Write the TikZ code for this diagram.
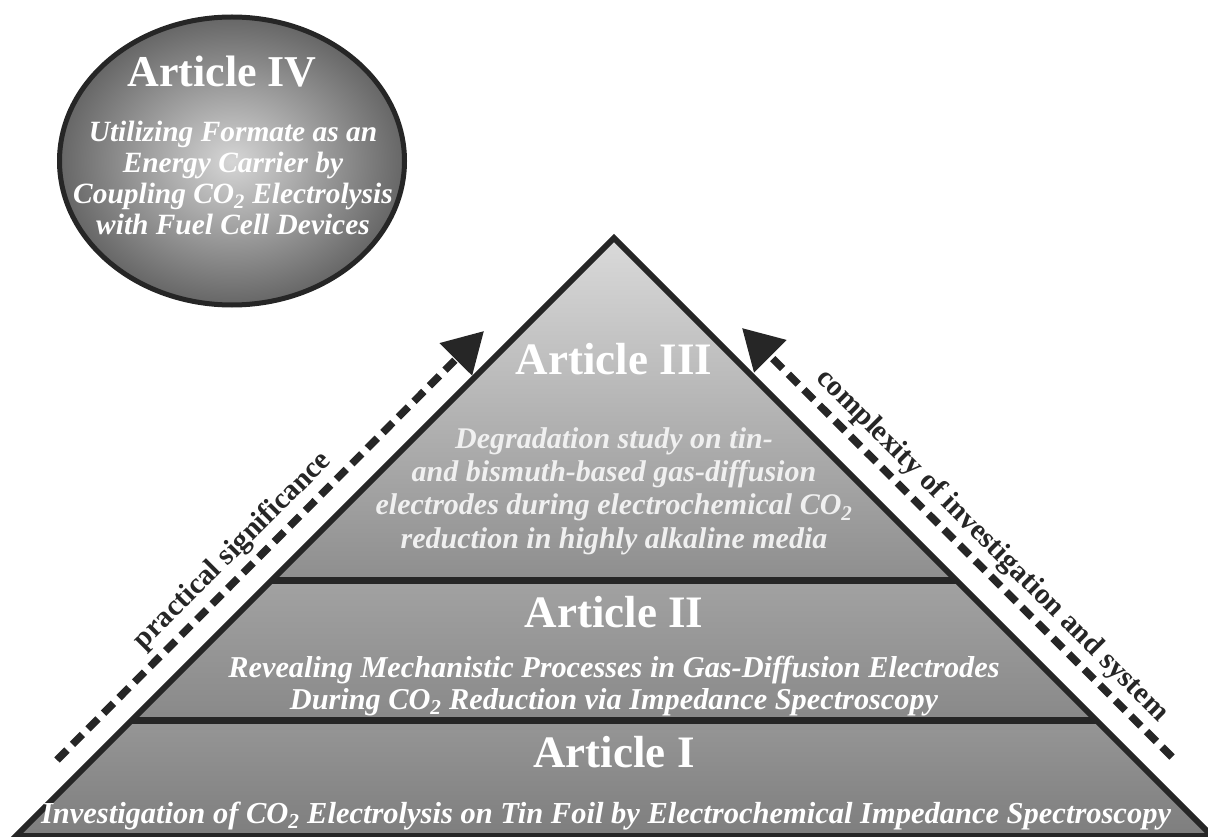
\documentclass[tikz,border=0pt]{standalone}
\usepackage{fontspec}
\setmainfont{Liberation Serif}
\usepackage{tikz}
\usetikzlibrary{arrows.meta,shapes.geometric}
\definecolor{PyramidLine}{HTML}{262626}
\definecolor{BandIIITop}{HTML}{dadada}
\definecolor{BandIIIBot}{HTML}{8e8e8e}
\definecolor{BandIITop}{HTML}{a2a2a2}
\definecolor{BandIIBot}{HTML}{898989}
\definecolor{BandITop}{HTML}{969696}
\definecolor{BandIBot}{HTML}{7e7e7e}
\definecolor{EllipseLight}{HTML}{d6d6d6}
\definecolor{EllipseDark}{HTML}{666666}

\begin{document}
\begin{tikzpicture}[x=1pt,y=-1pt,
  title/.style={font=\bfseries\fontsize{45}{50}\selectfont, text=white, anchor=base, inner sep=0pt},
  subtitle/.style={font=\bfseries\itshape\fontsize{30}{33}\selectfont, text=white, align=center, inner sep=0pt},
  trend/.style={line width=7.5pt, dash pattern=on 14pt off 8pt, draw=PyramidLine, -{Triangle[length=40pt,width=44pt]}},
  trendlabel/.style={font=\bfseries\fontsize{29.5}{32}\selectfont, text=PyramidLine, inner sep=0pt}]
  \useasboundingbox (0,0) rectangle (1208,837);

  % pyramid
  \coordinate (apex) at (614,238);
  \coordinate (bl) at (16,836);
  \coordinate (br) at (1212,836);
  \foreach \ytop/\ybot/\ctop/\cbot in {238/580/BandIIITop/BandIIIBot,580/720/BandIITop/BandIIBot,720/836/BandITop/BandIBot} {
    \shade[top color=\ctop, bottom color=\cbot]
      (852-\ytop,\ytop) -- (376+\ytop,\ytop) -- (376+\ybot,\ybot) -- (852-\ybot,\ybot) -- cycle;
  }
  \draw[line width=6pt, PyramidLine, line join=miter] (apex) -- (bl) -- (br) -- cycle;
  \foreach \y in {580,720}
    \draw[line width=7pt, PyramidLine] (852-\y,\y) -- (376+\y,\y);

  \node[title] (art3) at (614,374) {Article III};
  \node[subtitle, text=white!94!black, font=\bfseries\itshape\fontsize{30}{33.3}\selectfont] (art3sub) at (614,491)
    {Degradation study on tin-\\and bismuth-based gas-diffusion\\electrodes during electrochemical CO\textsubscript{2}\\reduction in highly alkaline media};
  \node[title] (art2) at (614,627) {Article II};
  \node[subtitle, font=\bfseries\itshape\fontsize{30.3}{32}\selectfont] (art2sub) at (614,686)
    {Revealing Mechanistic Processes in Gas-Diffusion Electrodes\\During CO\textsubscript{2} Reduction via Impedance Spectroscopy};
  \node[title] (art1) at (614,767) {Article I};
  \node[subtitle, anchor=base, font=\bfseries\itshape\fontsize{30.5}{34}\selectfont] (art1sub) at (606,823)
    {Investigation of CO\textsubscript{2} Electrolysis on Tin Foil by Electrochemical Impedance Spectroscopy};

  % article IV
  \node[ellipse, draw=PyramidLine, line width=5pt, minimum width=345pt, minimum height=288pt,
        inner color=EllipseLight, outer color=EllipseDark] (art4) at (232,161) {};
  \node[title, font=\bfseries\fontsize{44}{50}\selectfont] (art4title) at (222,87) {Article IV};
  \node[subtitle, font=\bfseries\itshape\fontsize{29.4}{31}\selectfont] (art4sub) at (233,178)
    {Utilizing Formate as an\\Energy Carrier by\\Coupling CO\textsubscript{2} Electrolysis\\with Fuel Cell Devices};

  % trends
  \coordinate (ps-start) at (57,760);
  \coordinate (ps-end) at (484,331);
  \draw[trend] (ps-start) -- (ps-end);
  \node[trendlabel, rotate=45] (ps-label) at (233,551) {practical significance};
  \coordinate (cx-start) at (1172,757);
  \coordinate (cx-end) at (742,328);
  \draw[trend] (cx-start) -- (cx-end);
  \node[trendlabel, rotate=-45] (cx-label) at (992,546) {complexity of investigation and system};
\end{tikzpicture}
\end{document}
